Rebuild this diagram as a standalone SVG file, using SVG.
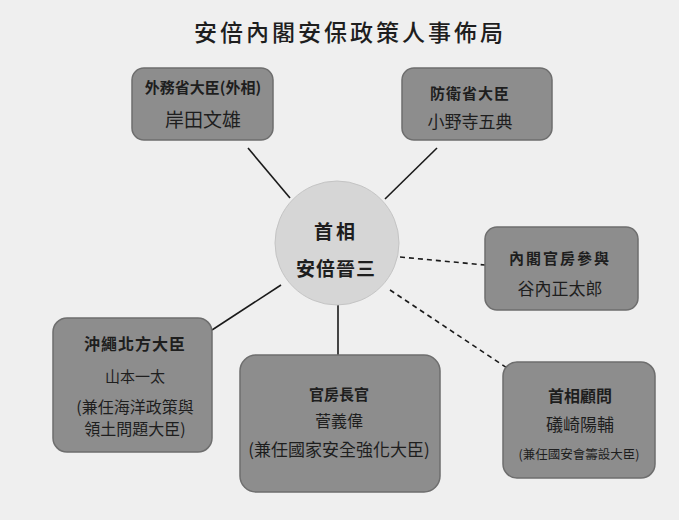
<svg xmlns="http://www.w3.org/2000/svg" width="679" height="520" viewBox="0 0 679 520">
<defs>
<style>
text{font-family:"Noto Sans CJK TC","Noto Sans CJK SC",sans-serif;fill:#1e1e1e;text-anchor:middle;dominant-baseline:central}
.box{fill:#8d8d8d;stroke:#6e6e6e;stroke-width:1.5}
.t{font-weight:bold;font-size:15px}
.n{font-size:17px}
.s{font-size:16px}
.line{stroke:#1a1a1a;stroke-width:1.6;fill:none}
.dash{stroke-dasharray:5,4}
</style>
</defs>
<rect width="679" height="520" fill="#efefef"/>
<text x="350" y="31" style="font-size:23px;letter-spacing:3px;font-weight:500">安倍內閣安保政策人事佈局</text>
<g id="connectors">
<line class="line" x1="248" y1="148" x2="290" y2="198"/>
<line class="line" x1="437" y1="148" x2="385" y2="199"/>
<line class="line dash" x1="400" y1="257" x2="485" y2="265"/>
<line class="line" x1="212" y1="330" x2="281" y2="285"/>
<line class="line" x1="338" y1="305" x2="338" y2="355"/>
<line class="line dash" x1="390" y1="290" x2="510" y2="370"/>
</g>
<g id="pm">
<circle cx="337" cy="243" r="62" fill="#d6d6d6" stroke="#c4c4c4" stroke-width="1"/>
<text x="336" y="230" style="font-size:19px;font-weight:bold;letter-spacing:3px">首相</text>
<text x="336" y="267" style="font-size:19px;font-weight:bold;letter-spacing:1px">安倍晉三</text>
</g>
<g id="foreign">
<rect class="box" x="132" y="68" width="141" height="72" rx="12"/>
<text class="t" x="203" y="86">外務省大臣(外相)</text>
<text x="203" y="118" style="font-size:19px">岸田文雄</text>
</g>
<g id="defense">
<rect class="box" x="402" y="68" width="150" height="72" rx="12"/>
<text class="t" x="470" y="92" style="letter-spacing:1px">防衛省大臣</text>
<text class="n" x="470" y="120">小野寺五典</text>
</g>
<g id="cabinet-adviser">
<rect class="box" x="485" y="227" width="153" height="83" rx="12"/>
<text class="t" x="560" y="257" style="letter-spacing:2px">內閣官房參與</text>
<text class="n" x="560" y="287">谷內正太郎</text>
</g>
<g id="okinawa">
<rect class="box" x="53" y="318" width="159" height="134" rx="14"/>
<text class="t" x="135" y="343" style="font-size:16px;letter-spacing:1px">沖繩北方大臣</text>
<text x="135" y="375" style="font-size:15px">山本一太</text>
<text class="s" x="135" y="406">(兼任海洋政策與</text>
<text class="s" x="135" y="428">領土問題大臣)</text>
</g>
<g id="chief-secretary">
<rect class="box" x="240" y="355" width="200" height="137" rx="16"/>
<text class="t" x="339" y="393">官房長官</text>
<text class="s" x="339" y="420">菅義偉</text>
<text x="339" y="448" style="font-size:17px">(兼任國家安全強化大臣)</text>
</g>
<g id="pm-adviser">
<rect class="box" x="503" y="362" width="152" height="116" rx="14"/>
<text class="t" x="580" y="395" style="font-size:16px">首相顧問</text>
<text x="580" y="423" style="font-size:17px">礒崎陽輔</text>
<text x="579" y="453" style="font-size:12.5px">(兼任國安會籌設大臣)</text>
</g>
</svg>
